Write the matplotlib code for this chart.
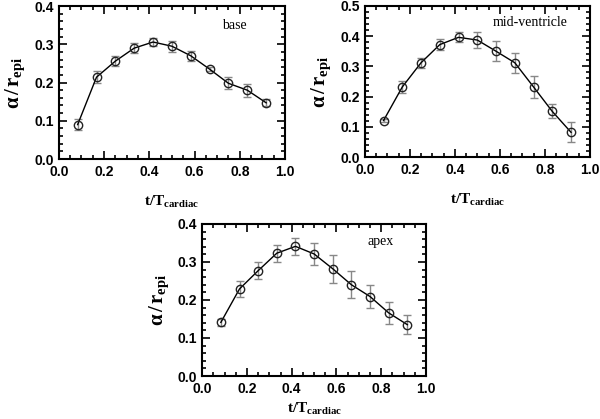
import matplotlib
matplotlib.use("Agg")
import matplotlib.pyplot as plt
from matplotlib.ticker import MultipleLocator, FormatStrFormatter

plt.rcParams['mathtext.fontset'] = 'custom'
plt.rcParams['mathtext.rm'] = 'Liberation Serif'
plt.rcParams['mathtext.it'] = 'Liberation Serif:italic'
plt.rcParams['mathtext.bf'] = 'Liberation Serif:bold'

t = [1/12, 2/12, 3/12, 4/12, 5/12, 6/12, 7/12, 8/12, 9/12, 10/12, 11/12]

base_y = [0.090, 0.214, 0.256, 0.290, 0.306, 0.295, 0.270, 0.235, 0.198, 0.180, 0.147]
base_e = [0.015, 0.016, 0.013, 0.014, 0.010, 0.014, 0.013, 0.006, 0.016, 0.017, 0.009]

mid_y = [0.121, 0.232, 0.312, 0.372, 0.396, 0.387, 0.350, 0.312, 0.232, 0.151, 0.082]
mid_e = [0.005, 0.021, 0.017, 0.017, 0.016, 0.026, 0.033, 0.033, 0.037, 0.023, 0.033]

apex_y = [0.141, 0.229, 0.277, 0.323, 0.341, 0.321, 0.282, 0.240, 0.209, 0.166, 0.135]
apex_e = [0.009, 0.022, 0.022, 0.022, 0.023, 0.029, 0.037, 0.036, 0.031, 0.028, 0.025]

panels = [
    ("base", base_y, base_e, 0.4, [0.098, 0.6205, 0.377, 0.365], (0.72, 0.35), 11),
    ("mid-ventricle", mid_y, mid_e, 0.5, [0.608, 0.625, 0.375, 0.361], (0.57, 0.445), 11),
    ("apex", apex_y, apex_e, 0.4, [0.337, 0.1026, 0.373, 0.363], (0.74, 0.353), 4),
]

fig = plt.figure(figsize=(6.0, 4.19), dpi=100)

for name, y, e, ymax, rect, tpos, xpad in panels:
    ax = fig.add_axes(rect)
    ax.errorbar(t, y, yerr=e, fmt='none', ecolor='#888888', elinewidth=1.0,
                capsize=3, capthick=1.0, zorder=2)
    ax.plot(t, y, color='black', lw=1.0, marker='o', markersize=6,
            markerfacecolor='none', markeredgecolor='#222222', markeredgewidth=1.0, zorder=3)
    ax.set_xlim(0, 1.0)
    ax.set_ylim(0, ymax)
    ax.xaxis.set_major_locator(MultipleLocator(0.2))
    ax.xaxis.set_minor_locator(MultipleLocator(0.05))
    ax.yaxis.set_major_locator(MultipleLocator(0.1))
    ax.yaxis.set_minor_locator(MultipleLocator(0.02))
    ax.xaxis.set_major_formatter(FormatStrFormatter('%.1f'))
    ax.yaxis.set_major_formatter(FormatStrFormatter('%.1f'))
    ax.tick_params(which='both', direction='in', top=True, right=True, width=1.2)
    ax.tick_params(which='major', length=6)
    ax.tick_params(which='minor', length=3)
    ax.tick_params(axis='x', pad=4)
    for s in ax.spines.values():
        s.set_linewidth(1.5)
    for lab in ax.get_xticklabels() + ax.get_yticklabels():
        lab.set_fontfamily('Liberation Sans')
        lab.set_fontweight('bold')
        lab.set_fontsize(10)
    ax.set_xlabel(r'$\mathbf{t/T_{cardiac}}$', fontsize=11, labelpad=xpad)
    ax.set_ylabel(r'$\mathbf{\alpha\,/\,r_{epi}}$', fontsize=15, labelpad=5)
    ax.text(tpos[0], tpos[1], name, fontfamily='Liberation Serif', fontsize=10,
            va='center', ha='left')

fig.savefig('out.png', dpi=100)
